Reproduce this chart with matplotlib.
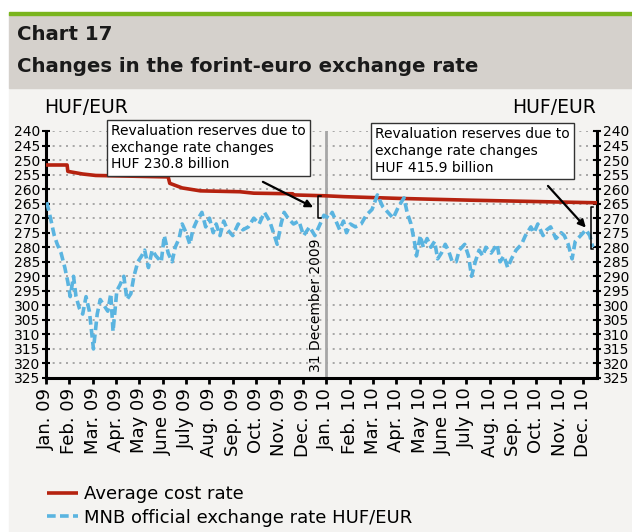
import numpy as np
import pandas as pd
import matplotlib
matplotlib.use("Agg")
import matplotlib.pyplot as plt
from matplotlib.patches import Rectangle

# ============================================================
# Data
# ============================================================

month_labels = ["Jan. 09", "Feb. 09", "Mar. 09", "Apr. 09", "May 09", "June 09",
                "July 09", "Aug. 09", "Sep. 09", "Oct. 09", "Nov. 09", "Dec. 09",
                "Jan. 10", "Feb. 10", "Mar. 10", "Apr. 10", "May 10", "June 10",
                "July 10", "Aug. 10", "Sep. 10", "Oct. 10", "Nov. 10", "Dec. 10"]

avg_dates = ["2009-01-01", "2009-01-29", "2009-01-30", "2009-02-17", "2009-03-05",
             "2009-06-08", "2009-06-10", "2009-06-26", "2009-07-20", "2009-09-10",
             "2009-09-28", "2009-11-18", "2009-11-19", "2009-12-31", "2010-01-25",
             "2010-04-05", "2010-07-05", "2010-10-05", "2010-12-19"]
avg_rate = [251.7, 251.7, 253.9, 254.8, 255.3,
            255.8, 258.0, 259.6, 260.6, 260.9,
            261.4, 261.6, 262.0, 262.3, 262.6,
            263.2, 263.8, 264.3, 264.7]

mnb_dates = ["2009-01-02", "2009-01-07", "2009-01-12", "2009-01-16", "2009-01-21",
             "2009-01-26", "2009-01-30", "2009-02-02", "2009-02-06", "2009-02-09",
             "2009-02-13", "2009-02-17", "2009-02-21", "2009-02-25", "2009-03-02",
             "2009-03-07", "2009-03-11", "2009-03-16", "2009-03-21", "2009-03-25",
             "2009-03-28", "2009-04-02", "2009-04-06", "2009-04-11", "2009-04-15",
             "2009-04-20", "2009-04-24", "2009-04-29", "2009-05-04", "2009-05-08",
             "2009-05-13", "2009-05-18", "2009-05-23", "2009-05-30", "2009-06-03",
             "2009-06-08", "2009-06-13", "2009-06-17", "2009-06-22", "2009-06-26",
             "2009-07-01", "2009-07-06", "2009-07-10", "2009-07-15", "2009-07-22",
             "2009-07-27", "2009-08-01", "2009-08-06", "2009-08-10", "2009-08-15",
             "2009-08-20", "2009-08-25", "2009-09-01", "2009-09-08", "2009-09-14",
             "2009-09-21", "2009-09-28", "2009-10-05", "2009-10-12", "2009-10-19",
             "2009-10-24", "2009-10-29", "2009-11-03", "2009-11-07", "2009-11-12",
             "2009-11-19", "2009-11-26", "2009-12-02", "2009-12-10", "2009-12-17",
             "2009-12-24", "2009-12-29", "2010-01-05", "2010-01-09", "2010-01-14",
             "2010-01-19", "2010-01-24", "2010-01-28", "2010-02-02", "2010-02-08",
             "2010-02-15", "2010-02-21", "2010-02-28", "2010-03-07", "2010-03-14",
             "2010-03-21", "2010-03-28", "2010-04-04", "2010-04-11", "2010-04-15",
             "2010-04-20", "2010-04-25", "2010-04-27", "2010-05-02", "2010-05-06",
             "2010-05-11", "2010-05-16", "2010-05-21", "2010-05-25", "2010-05-30",
             "2010-06-04", "2010-06-08", "2010-06-13", "2010-06-18", "2010-06-22",
             "2010-06-29", "2010-07-04", "2010-07-08", "2010-07-13", "2010-07-18",
             "2010-07-23", "2010-07-27", "2010-08-03", "2010-08-11", "2010-08-15",
             "2010-08-20", "2010-08-25", "2010-08-30", "2010-09-05", "2010-09-12",
             "2010-09-17", "2010-09-24", "2010-09-28", "2010-10-03", "2010-10-10",
             "2010-10-15", "2010-10-20", "2010-10-27", "2010-11-03", "2010-11-07",
             "2010-11-12", "2010-11-17", "2010-11-21", "2010-11-28", "2010-12-05",
             "2010-12-10", "2010-12-14"]
mnb_rate = [264.5, 270, 276, 279, 282,
            287, 292, 297, 290, 297,
            301, 303, 297, 302, 315,
            303, 298, 300, 302, 296,
            309, 295, 293, 290, 298,
            296, 290, 285, 283, 281,
            287, 281, 283, 285, 276,
            282, 285, 280, 277, 272,
            275, 279, 274, 271, 268,
            273, 270, 275, 272, 276,
            271, 274, 276, 272, 274,
            273, 270, 272, 268, 271,
            275, 279, 272, 268, 270,
            272, 271, 276, 273, 276,
            272, 269, 270, 268, 271,
            274, 271, 275, 272, 273,
            272, 269, 267, 262, 266,
            268, 270, 266, 263, 268,
            272, 279, 283, 276, 280,
            277, 280, 278, 284, 282,
            279, 281, 285, 285, 281,
            279, 283, 290, 285, 281,
            283, 280, 282, 279, 285,
            283, 287, 284, 281, 279,
            276, 273, 275, 272, 276,
            274, 273, 277, 275, 276,
            279, 284, 278, 276, 274,
            276, 280]

# revaluation brackets: date, top, bottom
bracket_dates = ["2009-12-21", "2010-12-11"]
bracket_top = [262.5, 266.0]
bracket_bottom = [270.0, 280.5]
box_texts = ["Revaluation reserves due to\nexchange rate changes\nHUF 230.8 billion",
             "Revaluation reserves due to\nexchange rate changes\nHUF 415.9 billion"]


def month_pos(s):
    d = pd.Timestamp(s)
    return (d.year - 2009) * 12 + d.month - 1 + (d.day - 1) / d.days_in_month


avg_x = [month_pos(d) for d in avg_dates]
mnb_x = [month_pos(d) for d in mnb_dates]
br_x = [month_pos(d) for d in bracket_dates]

# ============================================================
# Figure and header
# ============================================================
W, H = 632, 532
panel = "#f4f3f1"
band = "#d5d1cc"
green = "#7ab51d"
red = "#b5220f"
blue = "#5ab4e0"

fig = plt.figure(figsize=(W / 100, H / 100), dpi=100, facecolor="white")
fig.patches.append(Rectangle((9 / W, 0), 1, 1 - 88 / H, transform=fig.transFigure,
                             color=panel, zorder=-10))
fig.patches.append(Rectangle((9 / W, 1 - 88 / H), 1, 74 / H, transform=fig.transFigure,
                             color=band, zorder=-10))
fig.patches.append(Rectangle((9 / W, 1 - 14.5 / H), 1, 2.5 / H, transform=fig.transFigure,
                             color=green, zorder=-10))

fig.text(17 / W, 1 - 35 / H, "Chart 17", fontsize=14.2, fontweight="bold",
         color="#1a1a1a", va="center", ha="left")
fig.text(17 / W, 1 - 67 / H, "Changes in the forint-euro exchange rate", fontsize=14.2,
         fontweight="bold", color="#1a1a1a", va="center", ha="left")
fig.text(44 / W, 1 - 108 / H, "HUF/EUR", fontsize=13.5, va="center", ha="left")
fig.text(596 / W, 1 - 108 / H, "HUF/EUR", fontsize=13.5, va="center", ha="right")

# ============================================================
# Axes
# ============================================================
ax = fig.add_axes([46 / W, 1 - 378 / H, 551 / W, 247 / H])
ax.set_zorder(1)
ax.set_facecolor(panel)

ax.plot(avg_x + [23.6], avg_rate + [avg_rate[-1]], color=red, lw=2.6,
        solid_capstyle="butt", label="Average cost rate", zorder=3)
ax.plot(mnb_x, mnb_rate, color=blue, lw=2.6, linestyle=(0, (2.4, 1.2)),
        label="MNB official exchange rate HUF/EUR", zorder=4)

ax.axvline(12, color="#a6a6a6", lw=2, zorder=2)
ax.text(12 - 0.45, 300, "31 December 2009", rotation=90, fontsize=10,
        ha="center", va="center", zorder=5)

# brackets, arrows and boxes
box_pos = [(111 / W, 1 - 124 / H), (375 / W, 1 - 127 / H)]
arrow_start = [(9.29, 257.5), (21.5, 258.9)]
for i in range(2):
    bx = br_x[i]
    ax.plot([bx + 0.12, bx, bx, bx + 0.12],
            [bracket_top[i], bracket_top[i], bracket_bottom[i], bracket_bottom[i]],
            color="black", lw=1.1, zorder=6, clip_on=False)
    mid = (bracket_top[i] + bracket_bottom[i]) / 2
    ax.annotate("", xy=(bx - 0.2, mid), xytext=arrow_start[i],
                arrowprops=dict(arrowstyle="-|>", color="black", lw=1.6,
                                mutation_scale=11, shrinkA=0, shrinkB=0),
                zorder=6)
    ax.text(box_pos[i][0], box_pos[i][1], box_texts[i], fontsize=10, va="top",
            ha="left", linespacing=1.25, zorder=7, transform=fig.transFigure,
            bbox=dict(boxstyle="square,pad=0.3", fc="white", ec="#333333", lw=1))

ax.set_xlim(0, 23.6)
ax.set_ylim(325, 240)
ax.set_yticks(np.arange(240, 326, 5))
ax.set_xticks(np.arange(24))
ax.set_xticklabels(month_labels, rotation=90, fontsize=13)

ax.grid(axis="y", color="#9a9a9a", lw=1.2, linestyle=(0, (1.2, 2.8)))
ax.set_axisbelow(True)

for side in ["left", "right", "bottom"]:
    ax.spines[side].set_linewidth(2.2)
    ax.spines[side].set_color("black")
ax.spines["top"].set_visible(False)

ax.tick_params(axis="y", which="both", left=True, right=True, labelleft=True,
               labelright=True, direction="inout", length=6, width=1.5,
               labelsize=10, pad=1)
ax.tick_params(axis="x", direction="out", length=4, width=2, pad=3)

# legend
fig.legend(loc="upper left", bbox_to_anchor=(40 / W, 1 - 478 / H), frameon=False,
           fontsize=13, handlelength=1.7, handletextpad=0.35, labelspacing=0.3,
           borderaxespad=0)

fig.savefig("out.png", dpi=100, facecolor=fig.get_facecolor())
